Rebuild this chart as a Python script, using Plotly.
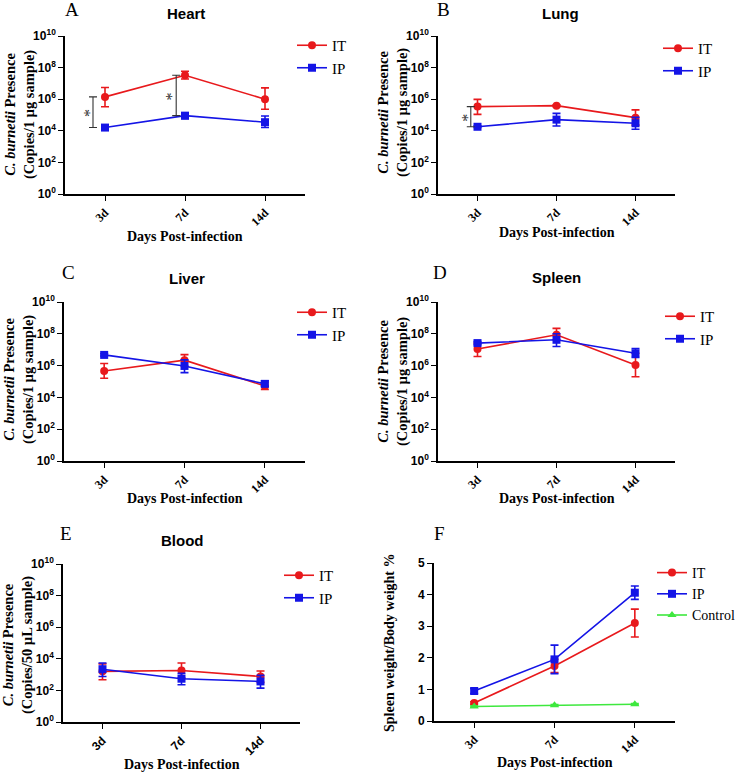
import math
import plotly.graph_objects as go

days = ["3d", "7d", "14d"]
xpos = [0, 1, 2]

# ---- Heart ----
heart_it = [1.4e6, 3.3e7, 1.0e6]
heart_it_hi = [5.5e6, 5.9e7, 5.2e6]
heart_it_lo = [3.3e5, 1.9e7, 2.3e5]
heart_ip = [1.6e4, 9.1e4, 3.5e4]
heart_ip_hi = [1.9e4, 1.4e5, 8.7e4]
heart_ip_lo = [1.3e4, 5.9e4, 1.6e4]
# ---- Lung ----
lung_it = [3.4e5, 3.9e5, 6.8e4]
lung_it_hi = [9.8e5, 4.5e5, 2.1e5]
lung_it_lo = [1.1e5, 3.4e5, 2.3e4]
lung_ip = [1.8e4, 5.1e4, 3.0e4]
lung_ip_hi = [2.1e4, 1.26e5, 7.1e4]
lung_ip_lo = [1.6e4, 2.0e4, 1.26e4]
# ---- Liver ----
liver_it = [4.6e5, 2.2e6, 5.2e4]
liver_it_hi = [1.35e6, 4.9e6, 8.5e4]
liver_it_lo = [1.6e5, 9.5e5, 3.2e4]
liver_ip = [4.7e6, 9.5e5, 7.1e4]
liver_ip_hi = [5.6e6, 2.3e6, 1.1e5]
liver_ip_lo = [4.0e6, 3.6e5, 5.0e4]
# ---- Spleen ----
spleen_it = [1.1e7, 8.7e7, 1.1e6]
spleen_it_hi = [2.6e7, 2.2e8, 6.0e6]
spleen_it_lo = [3.7e6, 4.2e7, 2.0e5]
spleen_ip = [2.6e7, 4.2e7, 6.0e6]
spleen_ip_hi = [3.2e7, 1.0e8, 1.2e7]
spleen_ip_lo = [2.1e7, 1.6e7, 3.2e6]
# ---- Blood ----
blood_it = [1.6e3, 1.8e3, 7.6e2]
blood_it_hi = [4.8e3, 5.4e3, 1.7e3]
blood_it_lo = [4.7e2, 6.0e2, 3.2e2]
blood_ip = [2.2e3, 5.5e2, 3.7e2]
blood_ip_hi = [5.4e3, 1.2e3, 8.9e2]
blood_ip_lo = [7.6e2, 2.3e2, 1.4e2]
# ---- Spleen weight / body weight ----
ratio_it = [0.57, 1.74, 3.10]
ratio_it_err = [0.04, 0.21, 0.44]
ratio_ip = [0.95, 1.95, 4.06]
ratio_ip_err = [0.08, 0.45, 0.21]
ratio_ctrl = [0.46, 0.50, 0.53]
ratio_ctrl_err = [0.02, 0.02, 0.02]

log_ticks = [10 ** k for k in range(0, 11, 2)]
log_tick_text = ["10<sup>%d</sup>" % k for k in range(0, 11, 2)]

RED = "#e8191c"
BLUE = "#1414e6"
GREEN = "#3ee83e"
W, H = 740, 773

SANS = "Liberation Sans, Arial, sans-serif"
SERIF = "Liberation Serif, Times New Roman, serif"


def px_x(p):
    return p / W


def px_y(p):
    return 1 - p / H


# panel geometry in pixels: x0, x1, ytop, ybottom
panels = [
    dict(key="A", title="Heart", box=(65, 305, 36, 194), log=True,
         ylab="<i>C. burnetii</i> Presence<br>(Copies/1 µg sample)",
         it=(heart_it, heart_it_hi, heart_it_lo), ip=(heart_ip, heart_ip_hi, heart_ip_lo),
         leg=(292, 29), letter=(63, 9), ttl=(186, 13), xt=236, yc=115, ys=14.5),
    dict(key="B", title="Lung", box=(438, 675, 36, 194), log=True,
         ylab="<i>C. burnetii</i> Presence<br>(Copies/1 µg sample)",
         it=(lung_it, lung_it_hi, lung_it_lo), ip=(lung_ip, lung_ip_hi, lung_ip_lo),
         leg=(658, 32), letter=(435, 9), ttl=(560, 13), xt=232, yc=113, ys=14.5),
    dict(key="C", title="Liver", box=(64, 305, 302, 461), log=True,
         ylab="<i>C. burnetii</i> Presence<br>(Copies/1 µg sample)",
         it=(liver_it, liver_it_hi, liver_it_lo), ip=(liver_ip, liver_ip_hi, liver_ip_lo),
         leg=(292, 296), letter=(60, 272), ttl=(187, 278), xt=498, yc=380, ys=14.5),
    dict(key="D", title="Spleen", box=(438, 675, 302, 461), log=True,
         ylab="<i>C. burnetii</i> Presence<br>(Copies/1 µg sample)",
         it=(spleen_it, spleen_it_hi, spleen_it_lo), ip=(spleen_ip, spleen_ip_hi, spleen_ip_lo),
         leg=(660, 300), letter=(431, 272), ttl=(556, 277), xt=498, yc=382, ys=14.5),
    dict(key="E", title="Blood", box=(63, 300, 564, 722), log=True,
         ylab="<i>C. burnetii</i> Presence<br>(Copies/50 µL sample)",
         it=(blood_it, blood_it_hi, blood_it_lo), ip=(blood_ip, blood_ip_hi, blood_ip_lo),
         leg=(279, 559), letter=(58, 533), ttl=(182, 540), xt=764, yc=645, ys=14.5),
    dict(key="F", title="", box=(434, 675, 563, 721), log=False,
         ylab="Spleen weight/Body weight %",
         leg=(652, 557), letter=(432, 533), ttl=None, xt=762, yc=642, ys=14),
]

fig = go.Figure()
layout = dict(width=W, height=H, margin=dict(l=0, r=0, t=0, b=0, autoexpand=False),
              template="none",
              plot_bgcolor="white", paper_bgcolor="white", showlegend=True)
annotations = []

for i, p in enumerate(panels, start=1):
    xa = "x" if i == 1 else "x%d" % i
    ya = "y" if i == 1 else "y%d" % i
    lg = "legend" if i == 1 else "legend%d" % i
    x0, x1, yt, yb = p["box"]

    def add_series(name, y, color, symbol, hi=None, lo=None, err=None):
        if err is not None:
            ey = dict(type="data", array=err, visible=True, color=color, thickness=1.6, width=4)
        else:
            ey = dict(type="data", array=[h - v for h, v in zip(hi, y)],
                      arrayminus=[v - l for v, l in zip(y, lo)], symmetric=False,
                      visible=True, color=color, thickness=1.6, width=4)
        fig.add_trace(go.Scatter(x=xpos, y=y, name=name, mode="lines+markers",
                                 line=dict(color=color, width=1.6),
                                 marker=dict(color=color, symbol=symbol, size=8),
                                 error_y=ey, xaxis=xa, yaxis=ya, legend=lg))

    if p["log"]:
        it, it_hi, it_lo = p["it"]
        ip, ip_hi, ip_lo = p["ip"]
        add_series("IT", it, RED, "circle", it_hi, it_lo)
        add_series("IP", ip, BLUE, "square", ip_hi, ip_lo)
    else:
        add_series("IT", ratio_it, RED, "circle", err=ratio_it_err)
        add_series("IP", ratio_ip, BLUE, "square", err=ratio_ip_err)
        add_series("Control", ratio_ctrl, GREEN, "triangle-up", err=ratio_ctrl_err)

    layout["xaxis" if i == 1 else "xaxis%d" % i] = dict(
        domain=[px_x(x0), px_x(x1)], anchor=ya, range=[-0.5, 2.5], automargin=False,
        tickvals=xpos, ticktext=days, tickangle=-45,
        tickfont=dict(family=SANS if p["key"] == "E" else SERIF, size=12, color="black", weight="bold"),
        showline=True, linecolor="black", linewidth=1.6, ticks="outside", ticklen=5,
        tickwidth=1.4, tickcolor="black", showgrid=False, zeroline=False, fixedrange=True)
    yax = dict(domain=[px_y(yb), px_y(yt)], anchor=xa, automargin=False,
               showline=True, linecolor="black", linewidth=1.6, ticks="outside", ticklen=5,
               tickwidth=1.4, tickcolor="black", showgrid=False, zeroline=False,
               tickfont=dict(family=SANS, size=12, color="black", weight="bold"), fixedrange=True)
    if p["log"]:
        yax.update(type="log", range=[0, 10], tickvals=log_ticks, ticktext=log_tick_text)
    else:
        yax.update(range=[0, 5], tickvals=[0, 1, 2, 3, 4, 5])
    layout["yaxis" if i == 1 else "yaxis%d" % i] = yax

    lx, ly = p["leg"]
    layout[lg] = dict(x=px_x(lx), y=px_y(ly), xanchor="left", yanchor="top",
                      bgcolor="rgba(0,0,0,0)",
                      font=dict(family=SERIF, size=14 if p["key"] == "F" else 15, color="black"),
                      tracegroupgap=0, itemwidth=30)

    # panel letter
    annotations.append(dict(text=p["key"], x=px_x(p["letter"][0]), y=px_y(p["letter"][1]),
                            xref="paper", yref="paper", xanchor="left", yanchor="middle",
                            showarrow=False, font=dict(family=SERIF, size=19, color="black")))
    if p["ttl"]:
        annotations.append(dict(text="<b>%s</b>" % p["title"], x=px_x(p["ttl"][0]), y=px_y(p["ttl"][1]),
                                xref="paper", yref="paper", xanchor="center", yanchor="middle",
                                showarrow=False, font=dict(family=SANS, size=15, color="black")))
    # x title
    annotations.append(dict(text="<b>Days Post-infection</b>", x=px_x((x0 + x1) / 2), y=px_y(p["xt"]),
                            xref="paper", yref="paper", xanchor="center", yanchor="middle",
                            showarrow=False, font=dict(family=SERIF, size=14, color="black")))
    # y title
    annotations.append(dict(text="<b>%s</b>" % p["ylab"], x=px_x(x0 - 45), y=px_y(p["yc"]),
                            xref="paper", yref="paper", xanchor="center", yanchor="middle",
                            textangle=-90, showarrow=False,
                            font=dict(family=SERIF, size=p["ys"], color="black")))

# significance brackets (IT vs IP)
sig = [(1, 0, -0.15, -0.20, heart_it, heart_ip),
       (1, 1, -0.11, -0.17, heart_it, heart_ip),
       (2, 0, -0.085, -0.13, lung_it, lung_ip)]
for idx, day, off, aoff, it, ip in sig:
    xa = "x" if idx == 1 else "x%d" % idx
    ya = "y" if idx == 1 else "y%d" % idx
    mid = math.sqrt(it[day] * ip[day])
    fig.add_trace(go.Scatter(x=[xpos[day] + off], y=[mid], mode="markers",
                             marker=dict(size=1, opacity=0), showlegend=False,
                             error_y=dict(type="data", array=[it[day] - mid], arrayminus=[mid - ip[day]],
                                          symmetric=False, color="#333333", thickness=1.1, width=4),
                             xaxis=xa, yaxis=ya, hoverinfo="skip"))
    annotations.append(dict(text="*", x=xpos[day] + aoff, y=math.log10(mid) - 0.05, xref=xa, yref=ya,
                            showarrow=False, textangle=-90,
                            font=dict(family=SERIF, size=16, color="#333333")))

layout["annotations"] = annotations
fig.update_layout(**layout)
fig.write_html("out.html", config={"displayModeBar": False},
               post_script="document.body.style.margin='0';document.body.style.overflow='hidden';")
